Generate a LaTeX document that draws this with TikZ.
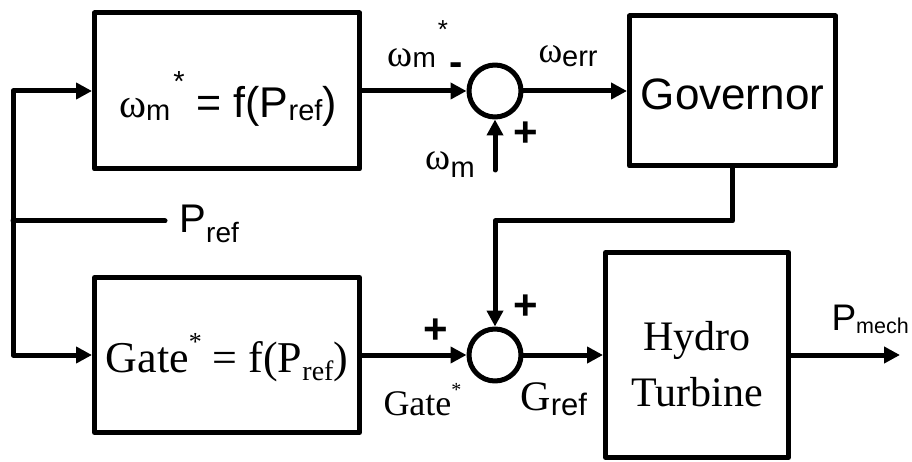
\documentclass[tikz,border=0pt]{standalone}
\usepackage{fontspec}
\setmainfont{Liberation Sans}
\newfontfamily\ar{Liberation Sans}
\newfontfamily\tm{Liberation Serif}
\usetikzlibrary{arrows.meta}
\newcommand{\fsz}[1]{\fontsize{#1}{#1}\selectfont}
\begin{document}
\begin{tikzpicture}[x=1pt,y=-1pt, line width=5pt, line join=round, line cap=round,
  box/.style={draw, rectangle, inner sep=0pt},
  sumnode/.style={draw, circle, minimum size=52pt, inner sep=0pt},
  arr/.style={-{Triangle[length=16pt,width=16pt]}},
  lbl/.style={inner sep=0pt, anchor=base west},
  txt/.style={inner sep=0pt, anchor=base},
  sgn/.style={inner sep=0pt, anchor=base, font=\ar\bfseries\fsz{42}},
]
\fill[white] (0,0) rectangle (912,462);
\useasboundingbox (0,0) rectangle (912,462);

% blocks
\node[box, minimum width=265pt, minimum height=156pt] (wbox) at (227,91) {};
\node[box, minimum width=206pt, minimum height=150pt] (gov) at (732.5,91) {};
\node[box, minimum width=265pt, minimum height=155pt] (gbox) at (227,355) {};
\node[box, minimum width=183pt, minimum height=205pt] (hyd) at (697,355) {};
\node[sumnode] (s1) at (495,91) {};
\node[sumnode] (s2) at (495,355) {};

% block texts
\node[txt] (wtxt) at (228,118) {{\tm\fsz{41}ω}\raisebox{-3pt}{\ar\fsz{29}m}\kern3pt\raisebox{26pt}[0pt][0pt]{\ar\fsz{29}*}\ar\fsz{43}\ =\ f(P\raisebox{-3pt}{\fsz{29}ref})};
\node[txt, font=\ar\fsz{44}] (govtxt) at (732.5,110) {Governor};
\node[txt] (gtxt) at (227,372) {\tm\fsz{44}Gate\raisebox{22pt}[0pt][0pt]{\fsz{26}*}\ = f(P\raisebox{-8pt}{\fsz{28}ref})};
\node[inner sep=0pt, align=center, font=\tm\fontsize{42}{56}\selectfont] (hydtxt) at (697,364) {Hydro\\Turbine};

% connectors
\coordinate (pj) at (13,221);
\coordinate (pe) at (165,221);
\coordinate (wmin) at (495,170);
\coordinate (pout) at (900,355);
\draw (pj) -- (pe);
\draw[arr] (pj) |- (wbox.west);
\draw[arr] (pj) |- (gbox.west);
\draw[arr] (wbox.east) -- (s1.west);
\draw[arr] (s1.east) -- (gov.west);
\draw[arr] (wmin) -- (s1.south);
\draw[arr] (gov.south) -- (gov.south |- pj) -| (s2.north);
\draw[arr] (gbox.east) -- (s2.west);
\draw[arr] (s2.east) -- (hyd.west);
\draw[arr] (hyd.east) -- (pout);

% labels
\node[lbl] (lwstar) at (385,67) {{\tm\fsz{38}ω}\raisebox{-1pt}{\ar\fsz{28}m}\kern2pt\raisebox{28pt}[0pt][0pt]{\ar\fsz{26}*}};
\node[txt, font=\ar\bfseries\fsz{40}] (minus) at (456,76) {-};
\node[lbl] (lwerr) at (536,63) {{\tm\fsz{36}ω}\raisebox{-4pt}{\ar\fsz{29}err}};
\node[sgn] (plus1) at (526,147) {+};
\node[lbl] (lwm) at (423,170) {{\tm\fsz{38}ω}\raisebox{-8pt}{\ar\fsz{29}m}};
\node[lbl] (lpref) at (177,233) {\ar\fsz{40}P\raisebox{-10pt}{\fsz{28}ref}};
\node[sgn] (plus2) at (436,343) {+};
\node[sgn] (plus3) at (526,319) {+};
\node[lbl] (lgate) at (381,415) {\tm\fsz{36}Gate\raisebox{19pt}[0pt][0pt]{\fsz{20}*}};
\node[lbl] (lgref) at (518,410) {\tm\fsz{42}G\raisebox{-5pt}{\ar\fsz{31}ref}};
\node[lbl] (lpmech) at (829,330) {\ar\fsz{37}P\raisebox{-3pt}{\fsz{21.5}mech}};
\end{tikzpicture}
\end{document}
